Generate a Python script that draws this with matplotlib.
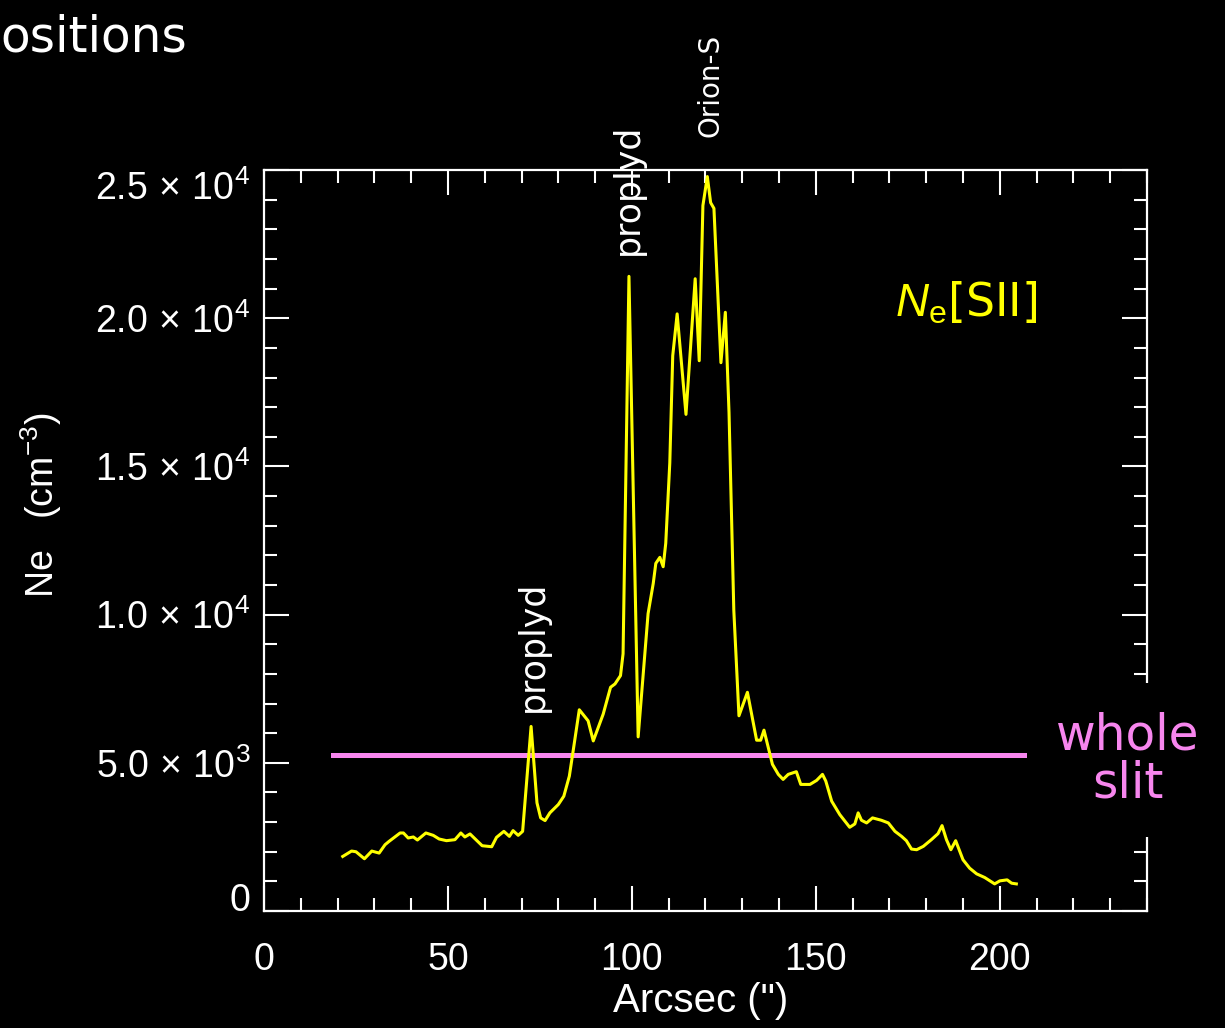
import matplotlib
matplotlib.use("Agg")
import matplotlib.pyplot as plt
from matplotlib.ticker import MultipleLocator

# --- data ---
arcsec = [21.4, 23.8, 25.0, 27.3, 29.3, 31.3, 32.9, 34.0, 37.0, 37.9,
          39.2, 40.6, 41.7, 44.0, 46.0, 47.6, 49.6, 51.9, 53.5, 54.6,
          56.0, 57.6, 59.3, 61.9, 63.2, 65.2, 66.7, 67.7, 69.1, 70.3,
          72.6, 74.2, 75.2, 76.4, 77.7, 80.0, 81.5, 83.0, 84.1, 85.7,
          88.1, 89.5, 92.2, 94.2, 95.4, 96.9, 97.6, 99.2, 101.7, 104.4,
          105.8, 106.5, 107.6, 108.5, 109.2, 110.3, 111.1, 112.3, 114.7, 117.2,
          118.3, 119.3, 120.5, 121.4, 122.3, 124.2, 125.4, 126.4, 127.7, 129.1,
          131.4, 133.9, 135.0, 135.9, 137.3, 138.2, 139.8, 141.1, 142.5, 144.7,
          145.9, 148.4, 150.2, 151.8, 152.7, 154.3, 156.5, 159.2, 160.6, 161.5,
          162.4, 163.8, 165.4, 167.8, 169.7, 171.5, 173.3, 174.6, 176.0, 177.4,
          179.2, 181.4, 183.2, 184.3, 185.5, 186.7, 188.0, 190.0, 191.8, 193.7,
          195.9, 198.6, 200.0, 202.0, 203.2, 204.5]
ne_sii = [1841, 2023, 2000, 1763, 2023, 1955, 2237, 2350, 2633, 2633,
          2464, 2498, 2396, 2633, 2553, 2430, 2373, 2407, 2633, 2498,
          2600, 2407, 2203, 2169, 2485, 2688, 2519, 2712, 2553, 2688,
          6227, 3650, 3142, 3051, 3311, 3593, 3875, 4553, 5458, 6790,
          6417, 5739, 6644, 7549, 7661, 7942, 8678, 21413, 5875, 10034,
          11051, 11729, 11932, 11616, 12407, 15119, 18735, 20146, 16756, 21332,
          18566, 23800, 24780, 23900, 23705, 18500, 20200, 16813, 10147, 6587,
          7379, 5763, 5763, 6102, 5400, 4949, 4610, 4441, 4610, 4701,
          4271, 4271, 4407, 4610, 4384, 3706, 3254, 2825, 2938, 3311,
          3062, 2972, 3142, 3062, 2972, 2689, 2519, 2373, 2090, 2068,
          2181, 2407, 2610, 2881, 2407, 2068, 2373, 1729, 1446, 1254,
          1130, 915, 1017, 1051, 939, 915]

whole_slit_ne = 5270
whole_slit_range = [18.7, 207.0]

feature_names = ["proplyd", "proplyd", "Orion-S"]
feature_x = [73.1, 98.9, 121.3]
feature_y = [6700, 22150, 26100]

xticks = [0, 50, 100, 150, 200]
yticks = [0, 5000, 10000, 15000, 20000, 25000]
ytick_labels = ["0", r"$5.0\,\times\,10^{3}$", r"$1.0\,\times\,10^{4}$",
                r"$1.5\,\times\,10^{4}$", r"$2.0\,\times\,10^{4}$", r"$2.5\,\times\,10^{4}$"]

# --- style ---
plt.rcParams["mathtext.fontset"] = "custom"
plt.rcParams["mathtext.rm"] = "Liberation Sans"
plt.rcParams["mathtext.it"] = "Liberation Sans:italic"
plt.rcParams["font.family"] = ["Liberation Sans", "DejaVu Sans"]

yellow = "#ffff00"
pink = "#f786ee"

fig = plt.figure(figsize=(12.25, 10.28), dpi=100, facecolor="black")
ax = fig.add_axes([0.2155, 0.1138, 0.7208, 0.7208])
ax.set_facecolor("black")

ax.plot(arcsec, ne_sii, color=yellow, lw=2.2, zorder=3)
ax.plot(whole_slit_range, [whole_slit_ne, whole_slit_ne], color=pink, lw=3.6, zorder=2)

ax.set_xlim(0, 240)
ax.set_ylim(0, 25000)
ax.xaxis.set_major_locator(MultipleLocator(50))
ax.xaxis.set_minor_locator(MultipleLocator(10))
ax.yaxis.set_major_locator(MultipleLocator(5000))
ax.yaxis.set_minor_locator(MultipleLocator(1000))
ax.set_xticks(xticks)
ax.set_xticklabels([str(t) for t in xticks])
ax.set_yticks(yticks)
ax.set_yticklabels(ytick_labels)

for s in ax.spines.values():
    s.set_color("white")
    s.set_linewidth(1.6)
ax.tick_params(which="both", direction="in", top=True, right=True,
               colors="white", width=1.5, labelsize=27)
ax.tick_params(which="major", length=18)
ax.tick_params(which="minor", length=9.5)
ax.tick_params(axis="x", pad=22)
ax.tick_params(axis="y", pad=10)

# IDL keeps the end labels inside the box
ylabs = ax.get_yticklabels()
ylabs[-1].set_verticalalignment("top")
ylabs[0].set_verticalalignment("baseline")

ax.set_xlabel('Arcsec (")', color="white", fontsize=29)
ax.xaxis.set_label_coords(0.494, -0.096)
ax.set_ylabel(r"Ne   (cm$^{-3}$)", color="white", fontsize=27)
ax.yaxis.set_label_coords(-0.226, 0.548)

for name, fx, fy in zip(feature_names, feature_x, feature_y):
    size = 20 if name == "Orion-S" else 25
    ax.text(fx, fy, name, rotation=90, ha="center", va="bottom", color="white",
            fontsize=size, family="DejaVu Sans", clip_on=False)

ax.text(190.8, 20500, r"$\mathit{N}_{\mathrm{e}}$[SII]", color=yellow,
        fontsize=33, ha="center", va="center", family="DejaVu Sans")

fig.text(1128 / 1225, 1 - 760 / 1028, "whole\nslit", color=pink, fontsize=35,
         ha="center", va="center", family="DejaVu Sans", linespacing=1.0,
         bbox=dict(boxstyle="square,pad=0.6", fc="black", ec="none"))

fig.text(0.0, 1 - 52 / 1028, "ositions", color="white", fontsize=35,
         ha="left", va="baseline", family="DejaVu Sans")

fig.savefig("out.png", dpi=100, facecolor="black")
